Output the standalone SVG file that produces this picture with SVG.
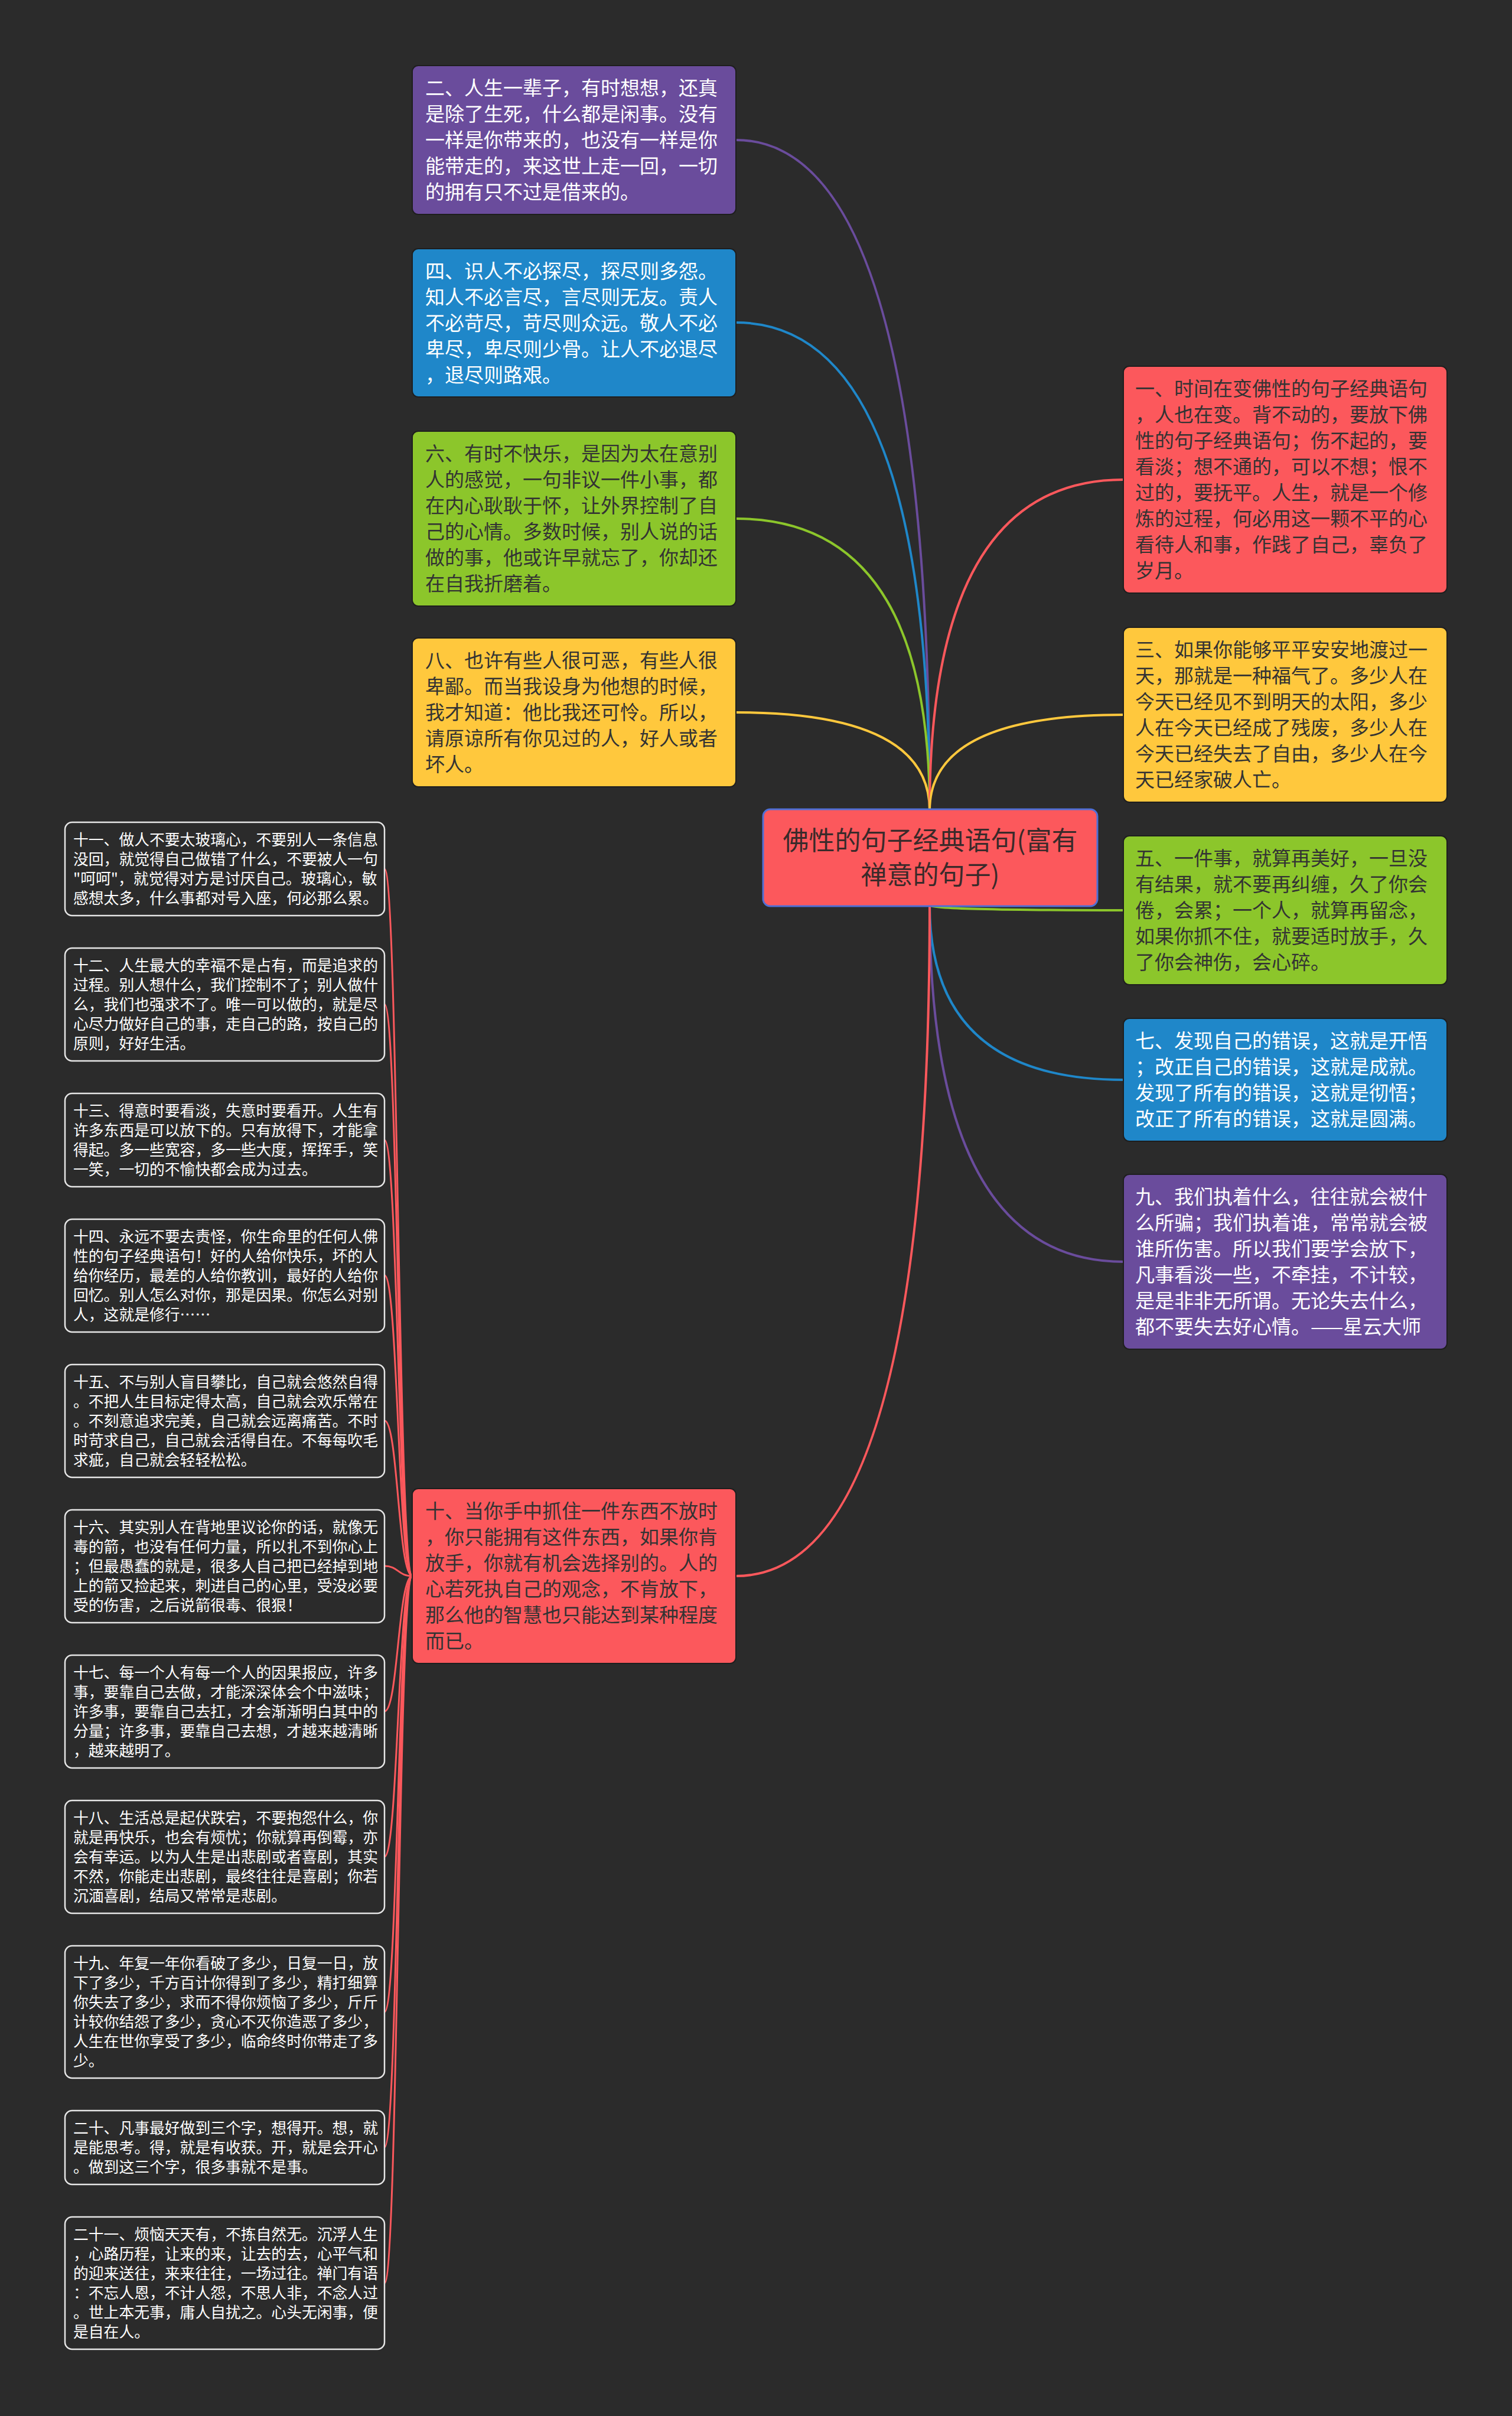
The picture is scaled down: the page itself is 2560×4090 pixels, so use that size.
<svg xmlns="http://www.w3.org/2000/svg" width="2560" height="4090" viewBox="0 0 2560 4090">
<style>
text{font-family:"Noto Sans CJK SC","Noto Sans",sans-serif;}
.big{font-size:33px;}
.small{font-size:25.8px;fill:#ffffff;}
.center{font-size:44px;fill:#3a2a2a;text-anchor:middle;}
.lt{fill:#ffffff;}
.dk{fill:#333333;}
.purple{fill:#6a4c9c;}
.blue{fill:#1f87c9;}
.green{fill:#8cc62b;}
.yellow{fill:#ffc83d;}
.red{fill:#fc585c;}
.box{stroke:#1e1e1e;stroke-width:2;}
.sbox{fill:#2b2b2b;stroke:#e6e6e6;stroke-width:2.5;}
.ln{fill:none;stroke-width:4;}
.fan{fill:none;stroke:#fc585c;stroke-width:3;}
</style>
<rect x="0" y="0" width="2560" height="4090" fill="#2b2b2b"/>
<g id="connectors">
<path class="ln" stroke="#6a4c9c" d="M1574,1372 Q1574,237 1246,237"/>
<path class="ln" stroke="#1f87c9" d="M1574,1372 Q1574,546 1246,546"/>
<path class="ln" stroke="#8cc62b" d="M1574,1372 Q1574,878 1246,878"/>
<path class="ln" stroke="#ffc83d" d="M1574,1372 Q1574,1206 1246,1206"/>
<path class="ln" stroke="#fc585c" d="M1574,1372 Q1574,812 1902,812"/>
<path class="ln" stroke="#ffc83d" d="M1574,1372 Q1574,1210 1902,1210"/>
<path class="ln" stroke="#8cc62b" d="M1574,1532 Q1574,1541 1902,1541"/>
<path class="ln" stroke="#1f87c9" d="M1574,1532 Q1574,1828 1902,1828"/>
<path class="ln" stroke="#6a4c9c" d="M1574,1532 Q1574,2136 1902,2136"/>
<path class="ln" stroke="#fc585c" d="M1574,1532 Q1574,2668 1246,2668"/>
<path class="fan" d="M698,2668 C674,2668 674,1471 651,1471"/>
<path class="fan" d="M698,2668 C674,2668 674,1700 651,1700"/>
<path class="fan" d="M698,2668 C674,2668 674,1930 651,1930"/>
<path class="fan" d="M698,2668 C674,2668 674,2159 651,2159"/>
<path class="fan" d="M698,2668 C674,2668 674,2405 651,2405"/>
<path class="fan" d="M698,2668 C674,2668 674,2651 651,2651"/>
<path class="fan" d="M698,2668 C674,2668 674,2897 651,2897"/>
<path class="fan" d="M698,2668 C674,2668 674,3143 651,3143"/>
<path class="fan" d="M698,2668 C674,2668 674,3406 651,3406"/>
<path class="fan" d="M698,2668 C674,2668 674,3635 651,3635"/>
<path class="fan" d="M698,2668 C674,2668 674,3865 651,3865"/>
</g>
<g id="center">
<rect x="1292" y="1370" width="566" height="164" rx="12" fill="#fc585c" stroke="#4f6fd6" stroke-width="3"/>
<text class="center"><tspan x="1575" y="1439">佛性的句子经典语句(富有</tspan><tspan x="1575" y="1497">禅意的句子)</tspan></text>
</g>
<g id="n2">
<rect class="box purple" x="698" y="111" width="548" height="252" rx="10"/>
<text class="big lt"><tspan x="720" y="161">二、人生一辈子，有时想想，还真</tspan><tspan x="720" y="205">是除了生死，什么都是闲事。没有</tspan><tspan x="720" y="249">一样是你带来的，也没有一样是你</tspan><tspan x="720" y="293">能带走的，来这世上走一回，一切</tspan><tspan x="720" y="337">的拥有只不过是借来的。</tspan></text>
</g>
<g id="n4">
<rect class="box blue" x="698" y="421" width="548" height="251" rx="10"/>
<text class="big lt"><tspan x="720" y="471">四、识人不必探尽，探尽则多怨。</tspan><tspan x="720" y="515">知人不必言尽，言尽则无友。责人</tspan><tspan x="720" y="559">不必苛尽，苛尽则众远。敬人不必</tspan><tspan x="720" y="603">卑尽，卑尽则少骨。让人不必退尽</tspan><tspan x="720" y="647">，退尽则路艰。</tspan></text>
</g>
<g id="n6">
<rect class="box green" x="698" y="730" width="548" height="296" rx="10"/>
<text class="big dk"><tspan x="720" y="780">六、有时不快乐，是因为太在意别</tspan><tspan x="720" y="824">人的感觉，一句非议一件小事，都</tspan><tspan x="720" y="868">在内心耿耿于怀，让外界控制了自</tspan><tspan x="720" y="912">己的心情。多数时候，别人说的话</tspan><tspan x="720" y="956">做的事，他或许早就忘了，你却还</tspan><tspan x="720" y="1000">在自我折磨着。</tspan></text>
</g>
<g id="n8">
<rect class="box yellow" x="698" y="1080" width="548" height="252" rx="10"/>
<text class="big dk"><tspan x="720" y="1130">八、也许有些人很可恶，有些人很</tspan><tspan x="720" y="1174">卑鄙。而当我设身为他想的时候，</tspan><tspan x="720" y="1218">我才知道：他比我还可怜。所以，</tspan><tspan x="720" y="1262">请原谅所有你见过的人，好人或者</tspan><tspan x="720" y="1306">坏人。</tspan></text>
</g>
<g id="n1">
<rect class="box red" x="1902" y="620" width="548" height="384" rx="10"/>
<text class="big dk"><tspan x="1922" y="670">一、时间在变佛性的句子经典语句</tspan><tspan x="1922" y="714">，人也在变。背不动的，要放下佛</tspan><tspan x="1922" y="758">性的句子经典语句；伤不起的，要</tspan><tspan x="1922" y="802">看淡；想不通的，可以不想；恨不</tspan><tspan x="1922" y="846">过的，要抚平。人生，就是一个修</tspan><tspan x="1922" y="890">炼的过程，何必用这一颗不平的心</tspan><tspan x="1922" y="934">看待人和事，作践了自己，辜负了</tspan><tspan x="1922" y="978">岁月。</tspan></text>
</g>
<g id="n3">
<rect class="box yellow" x="1902" y="1062" width="548" height="296" rx="10"/>
<text class="big dk"><tspan x="1922" y="1112">三、如果你能够平平安安地渡过一</tspan><tspan x="1922" y="1156">天，那就是一种福气了。多少人在</tspan><tspan x="1922" y="1200">今天已经见不到明天的太阳，多少</tspan><tspan x="1922" y="1244">人在今天已经成了残废，多少人在</tspan><tspan x="1922" y="1288">今天已经失去了自由，多少人在今</tspan><tspan x="1922" y="1332">天已经家破人亡。</tspan></text>
</g>
<g id="n5">
<rect class="box green" x="1902" y="1415" width="548" height="252" rx="10"/>
<text class="big dk"><tspan x="1922" y="1465">五、一件事，就算再美好，一旦没</tspan><tspan x="1922" y="1509">有结果，就不要再纠缠，久了你会</tspan><tspan x="1922" y="1553">倦，会累；一个人，就算再留念，</tspan><tspan x="1922" y="1597">如果你抓不住，就要适时放手，久</tspan><tspan x="1922" y="1641">了你会神伤，会心碎。</tspan></text>
</g>
<g id="n7">
<rect class="box blue" x="1902" y="1724" width="548" height="208" rx="10"/>
<text class="big lt"><tspan x="1922" y="1774">七、发现自己的错误，这就是开悟</tspan><tspan x="1922" y="1818">；改正自己的错误，这就是成就。</tspan><tspan x="1922" y="1862">发现了所有的错误，这就是彻悟；</tspan><tspan x="1922" y="1906">改正了所有的错误，这就是圆满。</tspan></text>
</g>
<g id="n9">
<rect class="box purple" x="1902" y="1988" width="548" height="296" rx="10"/>
<text class="big lt"><tspan x="1922" y="2038">九、我们执着什么，往往就会被什</tspan><tspan x="1922" y="2082">么所骗；我们执着谁，常常就会被</tspan><tspan x="1922" y="2126">谁所伤害。所以我们要学会放下，</tspan><tspan x="1922" y="2170">凡事看淡一些，不牵挂，不计较，</tspan><tspan x="1922" y="2214">是是非非无所谓。无论失去什么，</tspan><tspan x="1922" y="2258">都不要失去好心情。——星云大师</tspan></text>
</g>
<g id="n10">
<rect class="box red" x="698" y="2520" width="548" height="296" rx="10"/>
<text class="big dk"><tspan x="720" y="2570">十、当你手中抓住一件东西不放时</tspan><tspan x="720" y="2614">，你只能拥有这件东西，如果你肯</tspan><tspan x="720" y="2658">放手，你就有机会选择别的。人的</tspan><tspan x="720" y="2702">心若死执自己的观念，不肯放下，</tspan><tspan x="720" y="2746">那么他的智慧也只能达到某种程度</tspan><tspan x="720" y="2790">而已。</tspan></text>
</g>
<g id="n11">
<rect class="sbox" x="110" y="1392" width="541" height="158" rx="12"/>
<text class="small"><tspan x="124" y="1431">十一、做人不要太玻璃心，不要别人一条信息</tspan><tspan x="124" y="1464">没回，就觉得自己做错了什么，不要被人一句</tspan><tspan x="124" y="1497">"呵呵"，就觉得对方是讨厌自己。玻璃心，敏</tspan><tspan x="124" y="1530">感想太多，什么事都对号入座，何必那么累。</tspan></text>
</g>
<g id="n12">
<rect class="sbox" x="110" y="1605" width="541" height="191" rx="12"/>
<text class="small"><tspan x="124" y="1644">十二、人生最大的幸福不是占有，而是追求的</tspan><tspan x="124" y="1677">过程。别人想什么，我们控制不了；别人做什</tspan><tspan x="124" y="1710">么，我们也强求不了。唯一可以做的，就是尽</tspan><tspan x="124" y="1743">心尽力做好自己的事，走自己的路，按自己的</tspan><tspan x="124" y="1776">原则，好好生活。</tspan></text>
</g>
<g id="n13">
<rect class="sbox" x="110" y="1851" width="541" height="158" rx="12"/>
<text class="small"><tspan x="124" y="1890">十三、得意时要看淡，失意时要看开。人生有</tspan><tspan x="124" y="1923">许多东西是可以放下的。只有放得下，才能拿</tspan><tspan x="124" y="1956">得起。多一些宽容，多一些大度，挥挥手，笑</tspan><tspan x="124" y="1989">一笑，一切的不愉快都会成为过去。</tspan></text>
</g>
<g id="n14">
<rect class="sbox" x="110" y="2064" width="541" height="191" rx="12"/>
<text class="small"><tspan x="124" y="2103">十四、永远不要去责怪，你生命里的任何人佛</tspan><tspan x="124" y="2136">性的句子经典语句！好的人给你快乐，坏的人</tspan><tspan x="124" y="2169">给你经历，最差的人给你教训，最好的人给你</tspan><tspan x="124" y="2202">回忆。别人怎么对你，那是因果。你怎么对别</tspan><tspan x="124" y="2235">人，这就是修行……</tspan></text>
</g>
<g id="n15">
<rect class="sbox" x="110" y="2310" width="541" height="191" rx="12"/>
<text class="small"><tspan x="124" y="2349">十五、不与别人盲目攀比，自己就会悠然自得</tspan><tspan x="124" y="2382">。不把人生目标定得太高，自己就会欢乐常在</tspan><tspan x="124" y="2415">。不刻意追求完美，自己就会远离痛苦。不时</tspan><tspan x="124" y="2448">时苛求自己，自己就会活得自在。不每每吹毛</tspan><tspan x="124" y="2481">求疵，自己就会轻轻松松。</tspan></text>
</g>
<g id="n16">
<rect class="sbox" x="110" y="2556" width="541" height="191" rx="12"/>
<text class="small"><tspan x="124" y="2595">十六、其实别人在背地里议论你的话，就像无</tspan><tspan x="124" y="2628">毒的箭，也没有任何力量，所以扎不到你心上</tspan><tspan x="124" y="2661">；但最愚蠢的就是，很多人自己把已经掉到地</tspan><tspan x="124" y="2694">上的箭又捡起来，刺进自己的心里，受没必要</tspan><tspan x="124" y="2727">受的伤害，之后说箭很毒、很狠！</tspan></text>
</g>
<g id="n17">
<rect class="sbox" x="110" y="2802" width="541" height="191" rx="12"/>
<text class="small"><tspan x="124" y="2841">十七、每一个人有每一个人的因果报应，许多</tspan><tspan x="124" y="2874">事，要靠自己去做，才能深深体会个中滋味；</tspan><tspan x="124" y="2907">许多事，要靠自己去扛，才会渐渐明白其中的</tspan><tspan x="124" y="2940">分量；许多事，要靠自己去想，才越来越清晰</tspan><tspan x="124" y="2973">，越来越明了。</tspan></text>
</g>
<g id="n18">
<rect class="sbox" x="110" y="3048" width="541" height="191" rx="12"/>
<text class="small"><tspan x="124" y="3087">十八、生活总是起伏跌宕，不要抱怨什么，你</tspan><tspan x="124" y="3120">就是再快乐，也会有烦忧；你就算再倒霉，亦</tspan><tspan x="124" y="3153">会有幸运。以为人生是出悲剧或者喜剧，其实</tspan><tspan x="124" y="3186">不然，你能走出悲剧，最终往往是喜剧；你若</tspan><tspan x="124" y="3219">沉湎喜剧，结局又常常是悲剧。</tspan></text>
</g>
<g id="n19">
<rect class="sbox" x="110" y="3294" width="541" height="224" rx="12"/>
<text class="small"><tspan x="124" y="3333">十九、年复一年你看破了多少，日复一日，放</tspan><tspan x="124" y="3366">下了多少，千方百计你得到了多少，精打细算</tspan><tspan x="124" y="3399">你失去了多少，求而不得你烦恼了多少，斤斤</tspan><tspan x="124" y="3432">计较你结怨了多少，贪心不灭你造恶了多少，</tspan><tspan x="124" y="3465">人生在世你享受了多少，临命终时你带走了多</tspan><tspan x="124" y="3498">少。</tspan></text>
</g>
<g id="n20">
<rect class="sbox" x="110" y="3573" width="541" height="125" rx="12"/>
<text class="small"><tspan x="124" y="3612">二十、凡事最好做到三个字，想得开。想，就</tspan><tspan x="124" y="3645">是能思考。得，就是有收获。开，就是会开心</tspan><tspan x="124" y="3678">。做到这三个字，很多事就不是事。</tspan></text>
</g>
<g id="n21">
<rect class="sbox" x="110" y="3753" width="541" height="224" rx="12"/>
<text class="small"><tspan x="124" y="3792">二十一、烦恼天天有，不拣自然无。沉浮人生</tspan><tspan x="124" y="3825">，心路历程，让来的来，让去的去，心平气和</tspan><tspan x="124" y="3858">的迎来送往，来来往往，一场过往。禅门有语</tspan><tspan x="124" y="3891">：不忘人恩，不计人怨，不思人非，不念人过</tspan><tspan x="124" y="3924">。世上本无事，庸人自扰之。心头无闲事，便</tspan><tspan x="124" y="3957">是自在人。</tspan></text>
</g>
</svg>
